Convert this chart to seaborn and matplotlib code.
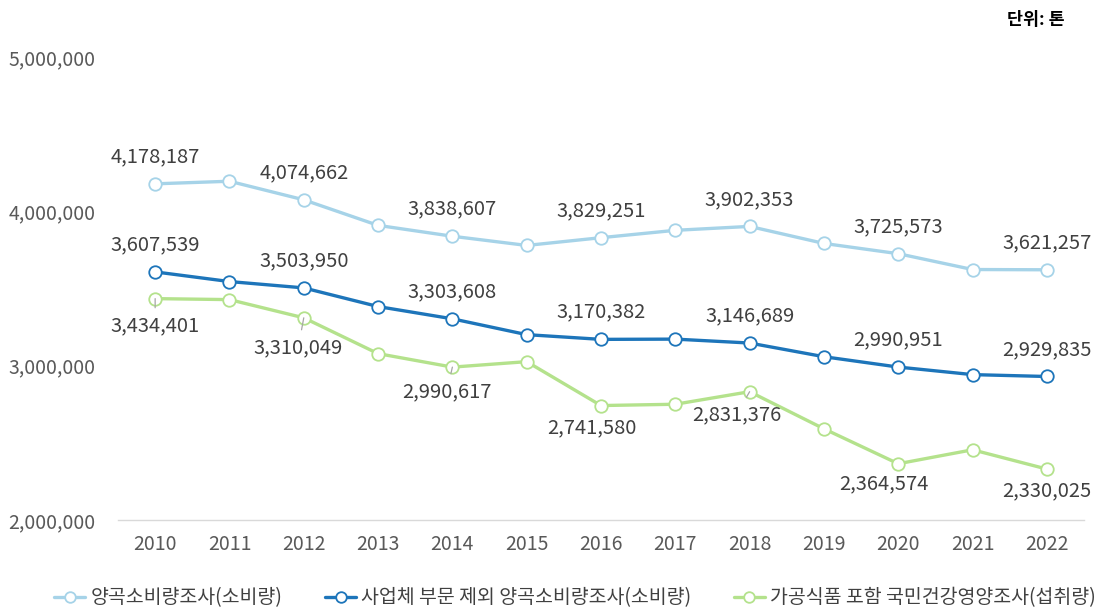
import matplotlib
matplotlib.use("Agg")
import matplotlib.pyplot as plt
import seaborn as sns
import pandas as pd

# data (odd years, even years from the labels)
years = list(range(2010, 2023))
grain_total = [4178187, 4195000, 4074662, 3909000, 3838607, 3779000, 3829251,
               3877000, 3902353, 3792000, 3725573, 3623000, 3621257]
grain_excl = [3607539, 3545000, 3503950, 3383000, 3303608, 3201000, 3170382,
              3172000, 3146689, 3058000, 2990951, 2942000, 2929835]
nutrition = [3434401, 3428000, 3310049, 3078000, 2990617, 3026000, 2741580,
             2750000, 2831376, 2591000, 2364574, 2455000, 2330025]
series_names = ["양곡소비량조사(소비량)",
                "사업체 부문 제외 양곡소비량조사(소비량)",
                "가공식품 포함 국민건강영양조사(섭취량)"]
y_ticks = [2000000, 3000000, 4000000, 5000000]

colors = ["#A6D3E8", "#1D75BA", "#B4E28C"]
label_color = "#404040"
tick_color = "#595959"

sns.set_theme(style="white")
plt.rcParams["font.family"] = ["Noto Sans CJK KR", "DejaVu Sans"]

df = pd.DataFrame({
    "year": years * 3,
    "value": grain_total + grain_excl + nutrition,
    "series": sum([[n] * len(years) for n in series_names], []),
})

fig = plt.figure(figsize=(11.01, 6.11), dpi=100)
ax = fig.add_axes([118 / 1101, 1 - 520 / 611, (1084 - 118) / 1101, (520 - 57) / 611])

for name, c in zip(series_names, colors):
    sub = df[df["series"] == name]
    sns.lineplot(data=sub, x="year", y="value", ax=ax, color=c, linewidth=2.4,
                 marker="o", markersize=9, markerfacecolor="white",
                 markeredgecolor=c, markeredgewidth=1.3, label=name)

# value labels on even years
above_off = 19.5
for vals in (grain_total, grain_excl):
    for yr, v in zip(years, vals):
        if yr % 2 == 0:
            ax.annotate(f"{v:,}", (yr, v), xytext=(0, above_off),
                        textcoords="offset points", ha="center", va="center",
                        fontsize=14.5, color=label_color)

green_offsets = {2010: (0, 19.5), 2012: (-4, 21.5), 2014: (-4, 17.5), 2016: (-6.5, 16),
                 2018: (-9.5, 16.5), 2020: (-10, 14.5), 2022: (0, 16)}
leaders = {2010, 2012, 2014, 2018}
for yr, v in zip(years, nutrition):
    if yr % 2 == 0:
        dx, dy = green_offsets[yr]
        props = None
        if yr in leaders:
            props = dict(arrowstyle="-", color="#A6A6A6", lw=0.9, shrinkA=3, shrinkB=0)
        ax.annotate(f"{v:,}", (yr, v), xytext=(dx, -dy),
                    textcoords="offset points", ha="center", va="center",
                    fontsize=14.5, color=label_color, arrowprops=props)

ax.set_xlim(2009.5, 2022.5)
ax.set_ylim(2000000, 5000000)
ax.set_xticks(years)
ax.set_xticklabels([str(y) for y in years])
ax.set_yticks(y_ticks)
ax.set_yticklabels([f"{t:,}" for t in y_ticks])
ax.tick_params(axis="both", length=0, labelsize=14, colors=tick_color)
ax.tick_params(axis="x", pad=10)
ax.tick_params(axis="y", pad=16)
ax.set_xlabel("")
ax.set_ylabel("")
ax.grid(False)
for s in ["top", "right", "left"]:
    ax.spines[s].set_visible(False)
ax.spines["bottom"].set_color("#D9D9D9")
ax.spines["bottom"].set_linewidth(1)

ax.legend_.remove()
handles, labels = ax.get_legend_handles_labels()
fig.legend(handles, labels, loc="center", bbox_to_anchor=(575 / 1101, 1 - 598 / 611),
           ncol=3, frameon=False, fontsize=14, handlelength=1.6, markerscale=0.85,
           columnspacing=2.2, handletextpad=0.25, labelcolor=label_color)

fig.text(1065 / 1101, 1 - 20 / 611, "단위: 톤", ha="right", va="center",
         fontsize=12.5, fontweight="bold", color="black")

fig.savefig("out.png", dpi=100)
